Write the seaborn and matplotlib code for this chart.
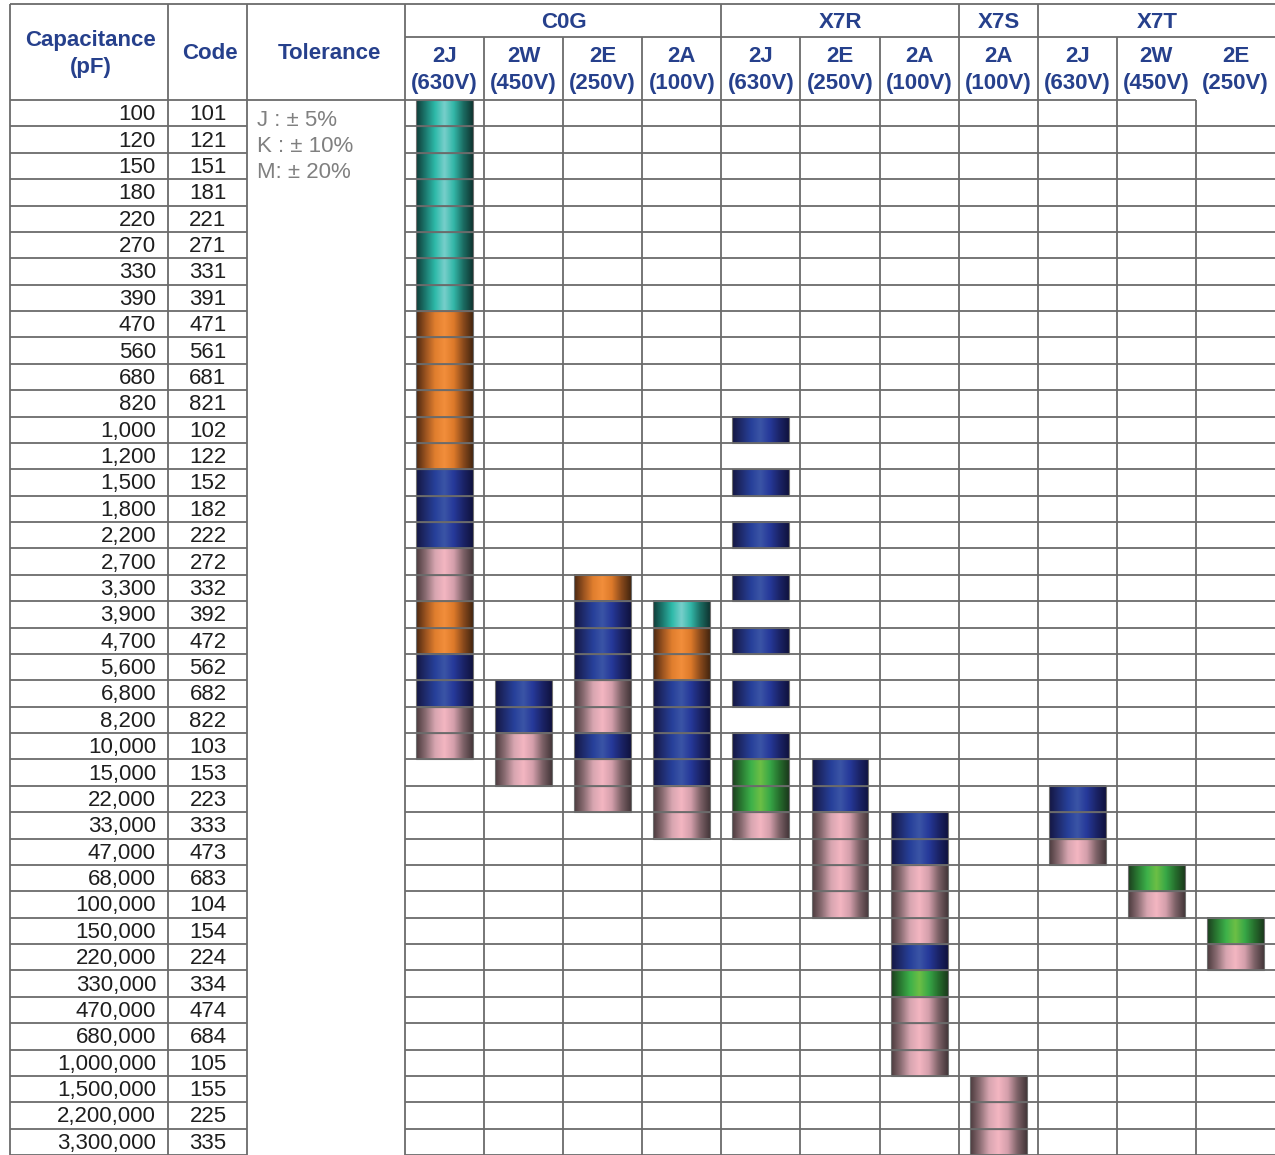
import numpy as np
import matplotlib
matplotlib.use("Agg")
import matplotlib.pyplot as plt
from matplotlib.patches import Rectangle
import seaborn as sns

# Table rows: capacitance (pF) and code
capacitance = [100, 120, 150, 180, 220, 270, 330, 390, 470, 560, 680, 820,
               1000, 1200, 1500, 1800, 2200, 2700, 3300, 3900, 4700, 5600, 6800, 8200,
               10000, 15000, 22000, 33000, 47000, 68000, 100000, 150000, 220000,
               330000, 470000, 680000, 1000000, 1500000, 2200000, 3300000]
codes = ["101", "121", "151", "181", "221", "271", "331", "391", "471", "561", "681", "821",
         "102", "122", "152", "182", "222", "272", "332", "392", "472", "562", "682", "822",
         "103", "153", "223", "333", "473", "683", "104", "154", "224",
         "334", "474", "684", "105", "155", "225", "335"]
tolerance = ["J : ± 5%", "K : ± 10%", "M: ± 20%"]

# Column headers
groups = ["C0G", "X7R", "X7S", "X7T"]
group_span = [4, 3, 1, 3]
rated = ["2J", "2W", "2E", "2A", "2J", "2E", "2A", "2A", "2J", "2W", "2E"]
volts = ["(630V)", "(450V)", "(250V)", "(100V)", "(630V)", "(250V)", "(100V)",
         "(100V)", "(630V)", "(450V)", "(250V)"]

# Each column: first capacitance and one colour key per row (. = empty)
# T teal, O orange, B blue, P pink, G green
c0g_2j = (100, "TTTTTTTTOOOOOOBBBPPOOBBPP")
c0g_2w = (6800, "BBPP")
c0g_2e = (3300, "OBBBPPBPP")
c0g_2a = (3900, "TOOBBBBPP")
x7r_2j = (1000, "B.B.B.B.B.B.BGGP")
x7r_2e = (15000, "BBPPPP")
x7r_2a = (33000, "BBPPPBGPPP")
x7s_2a = (1500000, "PPP")
x7t_2j = (22000, "BBP")
x7t_2w = (68000, "GP")
x7t_2e = (150000, "GP")
series = [c0g_2j, c0g_2w, c0g_2e, c0g_2a, x7r_2j, x7r_2e, x7r_2a,
          x7s_2a, x7t_2j, x7t_2w, x7t_2e]

# cylinder-like shading for each colour key
shades = {
    "T": ["#0f3b37", "#1c7a70", "#2ebaa9", "#78cfcb", "#33b7a8", "#1b6d63", "#0f3531"],
    "O": ["#4a2710", "#9a5320", "#e07e2e", "#f28e3b", "#dd7a2a", "#8a4a1c", "#45260f"],
    "B": ["#141642", "#1f2c6e", "#27409a", "#3b55a6", "#26399a", "#1b2468", "#10123f"],
    "P": ["#4b3a3d", "#8a6c72", "#d7a5b0", "#f4b6c2", "#d49fab", "#7e6268", "#45373a"],
    "G": ["#1c3d1e", "#2a7a32", "#3db14a", "#6dbf45", "#38a847", "#266f2d", "#1b3a1c"],
}
cmaps = {k: sns.blend_palette(v, as_cmap=True) for k, v in shades.items()}

sns.set_theme(style="white")
plt.rcParams["font.family"] = ["Liberation Sans", "DejaVu Sans"]

W, H = 1275, 1155
top, head_mid, head_bot, bottom = 4, 37, 100, 1155
left_edges = [10, 168, 247, 405]
n_cols = len(rated)
n_rows = len(capacitance)
col_w = (W - 405) / n_cols
row_h = (bottom - head_bot) / n_rows
line_c = "#6b6b6b"
lw = 1.3
blue_txt = "#26408c"
dy = 1.5  # small nudge for text baseline

fig = plt.figure(figsize=(W / 100, H / 100), dpi=100)

# bars: x = column index, y = row index
ax = fig.add_axes([405 / W, 0, (W - 405) / W, (bottom - head_bot) / H])
bw = 0.72
grad = np.linspace(0, 1, 128)[None, :]
for ci, (start, marks) in enumerate(series):
    r0 = capacitance.index(start)
    for k, m in enumerate(marks):
        if m == ".":
            continue
        r = r0 + k
        ax.imshow(grad, cmap=cmaps[m], extent=(ci - bw / 2, ci + bw / 2, r + 1, r),
                  aspect="auto", interpolation="bilinear", zorder=2)
        ax.add_patch(Rectangle((ci - bw / 2, r), bw, 1, fill=False,
                               ec="#707070", lw=0.8, zorder=3))
ax.set_xlim(-0.5, n_cols - 0.5)
ax.set_ylim(n_rows, 0)
ax.axis("off")

# table lines and text on top
tb = fig.add_axes([0, 0, 1, 1])
tb.patch.set_visible(False)
tb.set_xlim(0, W)
tb.set_ylim(H, 0)
tb.axis("off")

col_x = [405 + i * col_w for i in range(n_cols + 1)]
tb.hlines(top, 10, W, color=line_c, lw=lw)
tb.hlines(head_mid, 405, W, color=line_c, lw=lw)
tb.hlines(head_bot, 10, col_x[-2], color=line_c, lw=lw)
for k in range(1, n_rows + 1):
    y = head_bot + k * row_h
    tb.hlines(y, 10, 247, color=line_c, lw=lw)
    tb.hlines(y, 405, W, color=line_c, lw=lw)
for x in left_edges:
    tb.vlines(x, top, bottom, color=line_c, lw=lw)
gi = 0
group_x = []
for span in group_span:
    group_x.append((col_x[gi], col_x[gi + span]))
    if gi > 0:
        tb.vlines(col_x[gi], top, bottom, color=line_c, lw=lw)
    for j in range(gi + 1, gi + span):
        y0 = head_mid if j < n_cols - 1 else head_bot
        tb.vlines(col_x[j], y0, bottom, color=line_c, lw=lw)
    gi += span

fs = 16
tb.text(91, 39 + dy, "Capacitance", ha="center", va="center", fontsize=fs,
        fontweight="bold", color=blue_txt)
tb.text(91, 66 + dy, "(pF)", ha="center", va="center", fontsize=fs,
        fontweight="bold", color=blue_txt)
tb.text(210, 52 + dy, "Code", ha="center", va="center", fontsize=fs,
        fontweight="bold", color=blue_txt)
tb.text(329, 52 + dy, "Tolerance", ha="center", va="center", fontsize=fs,
        fontweight="bold", color=blue_txt)
for name, (x0, x1) in zip(groups, group_x):
    tb.text((x0 + x1) / 2 + 1, 21 + dy, name, ha="center", va="center", fontsize=fs,
            fontweight="bold", color=blue_txt)
for i in range(n_cols):
    cx = (col_x[i] + col_x[i + 1]) / 2
    tb.text(cx, 55 + dy, rated[i], ha="center", va="center", fontsize=fs,
            fontweight="bold", color=blue_txt)
    tb.text(cx, 82 + dy, volts[i], ha="center", va="center", fontsize=fs,
            fontweight="bold", color=blue_txt)

for i, (c, code) in enumerate(zip(capacitance, codes)):
    y = head_bot + (i + 0.5) * row_h + dy
    tb.text(156, y, f"{c:,}", ha="right", va="center", fontsize=fs, color="#1e1e1e")
    tb.text(208, y, code, ha="center", va="center", fontsize=fs, color="#1e1e1e")
for i, t in enumerate(tolerance):
    tb.text(257, 118 + i * 26 + 2, t, ha="left", va="center", fontsize=fs, color="#808080")

plt.savefig("out.png", dpi=100)
